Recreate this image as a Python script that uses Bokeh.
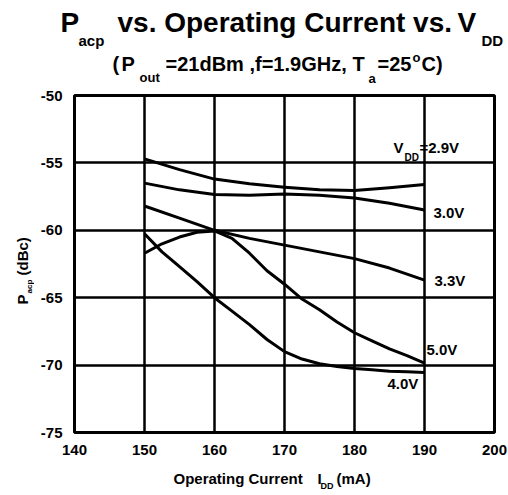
import math
from bokeh.plotting import figure
from bokeh.models import Label, FixedTicker, Range1d
from bokeh.layouts import column, row
from bokeh.embed import file_html
from bokeh.resources import INLINE

# ---- data ----
current_coarse = [150, 155, 160, 165, 170, 175, 180, 185, 190]
current_fine = [150, 152.5, 155, 157.5, 160, 162.5, 165, 167.5, 170,
                172.5, 175, 177.5, 180, 182.5, 185, 187.5, 190]
acp_29 = [-54.7, -55.5, -56.2, -56.55, -56.8, -57.0, -57.05, -56.85, -56.6]
acp_30 = [-56.5, -57.0, -57.35, -57.4, -57.3, -57.4, -57.6, -58.0, -58.5]
acp_33 = [-58.2, -59.1, -60.0, -60.6, -61.1, -61.6, -62.1, -62.8, -63.7]
acp_50 = [-61.7, -61.0, -60.5, -60.15, -60.05, -60.6, -61.7, -63.0, -64.0,
          -65.1, -65.9, -66.8, -67.6, -68.2, -68.8, -69.3, -69.85]
acp_40 = [-60.25, -61.6, -62.7, -63.8, -65.0, -66.0, -67.0, -68.1, -69.0,
          -69.55, -69.9, -70.1, -70.25, -70.35, -70.45, -70.5, -70.55]
x_ticks = [140, 150, 160, 170, 180, 190, 200]
y_ticks = [-75, -70, -65, -60, -55, -50]
x_grid = [150, 160, 170, 180, 190]
y_grid = [-70, -65, -60, -55]

FONT = "Liberation Sans"

LEFT_W = 34
FRAME_L, FRAME_R, FRAME_T, FRAME_B = 74, 494, 95, 432
TOP_H = 87
BOT_Y = 462

# ---------------- main chart ----------------
p = figure(frame_width=FRAME_R - FRAME_L, frame_height=FRAME_B - FRAME_T,
           min_border_left=FRAME_L - LEFT_W, min_border_right=508 - FRAME_R - LEFT_W + LEFT_W - 0,
           min_border_top=FRAME_T - TOP_H, min_border_bottom=BOT_Y - FRAME_B,
           x_range=Range1d(140, 200), y_range=Range1d(-75, -50),
           output_backend="svg", toolbar_location=None)
p.min_border_right = 508 - FRAME_R

p.outline_line_color = "black"
p.outline_line_width = 3
p.outline_line_alpha = 1

for ax in (p.xaxis[0], p.yaxis[0]):
    ax.axis_line_color = None
    ax.major_tick_line_color = None
    ax.minor_tick_line_color = None
    ax.major_tick_out = 0
    ax.major_tick_in = 0
    ax.minor_tick_out = 0
    ax.minor_tick_in = 0
    ax.major_label_text_font = FONT
    ax.major_label_text_font_style = "bold"
    ax.major_label_text_font_size = "15px"
    ax.major_label_text_color = "black"
p.xaxis.ticker = FixedTicker(ticks=x_ticks)
p.yaxis.ticker = FixedTicker(ticks=y_ticks)
p.yaxis.major_label_overrides = {t: str(t) for t in y_ticks}
p.xaxis.major_label_standoff = 12
p.yaxis.major_label_standoff = 12

p.xgrid.ticker = FixedTicker(ticks=x_grid)
p.ygrid.ticker = FixedTicker(ticks=y_grid)
for g in (p.xgrid[0], p.ygrid[0]):
    g.grid_line_color = "black"
    g.grid_line_width = 2.5
    g.grid_line_alpha = 1

for ys, xs in ((acp_29, current_coarse), (acp_30, current_coarse),
               (acp_33, current_coarse), (acp_50, current_fine),
               (acp_40, current_fine)):
    p.line(xs, ys, line_width=3, line_color="black", line_join="round")

# page pixel -> data coordinate helpers for the main frame
def X(px):
    return 140 + (px - FRAME_L) * 60 / (FRAME_R - FRAME_L)

def Y(py):
    return -50 - (py - FRAME_T) * 25 / (FRAME_B - FRAME_T)

def add_label(fig, text, x, y, size, angle=0.0):
    fig.add_layout(Label(x=x, y=y, text=text, text_font=FONT,
                         text_font_style="bold", text_font_size=f"{size}px",
                         text_color="black", text_align="left",
                         text_baseline="middle", angle=angle))

# curve labels
def lab(text, px, py, size):
    add_label(p, text, X(px), Y(py), size)

lab("V", 393, 147, 15)
lab("DD", 404, 157, 10)
lab("=2.9V", 419, 147, 15)
lab("3.0V", 433, 212, 15)
lab("3.3V", 434, 280, 15)
lab("5.0V", 426, 349, 15)
lab("4.0V", 387, 383, 15)

# ---------------- text panels (page-pixel coordinates) ----------------
def text_panel(w, y0, y1):
    f = figure(frame_width=w, frame_height=y1 - y0, min_border=0,
               x_range=Range1d(0, w), y_range=Range1d(y1, y0),
               x_axis_location=None, y_axis_location=None,
               output_backend="svg", toolbar_location=None)
    f.outline_line_color = None
    f.grid.visible = False
    return f

top = text_panel(508, 0, TOP_H)
add_label(top, "P", 60, 22, 28)
add_label(top, "acp", 78, 40, 15)
add_label(top, "vs. Operating Current vs.", 117, 22, 28)
add_label(top, "V", 457, 22, 28)
add_label(top, "DD", 481, 40, 15)
add_label(top, "(", 112, 63, 20)
add_label(top, "P", 121, 63, 20)
add_label(top, "out", 139, 77, 13)
add_label(top, "=21dBm ,f=1.9GHz,", 165, 63, 20)
add_label(top, "T", 352, 63, 20)
add_label(top, "a", 368, 78, 13)
add_label(top, "=25", 377, 63, 20)
add_label(top, "o", 412, 57, 13)
add_label(top, "C)", 421, 63, 20)

left = text_panel(LEFT_W, TOP_H, BOT_Y)
add_label(left, "P", 22, 296, 15, angle=math.pi / 2)
add_label(left, "acp", 29, 285, 8, angle=math.pi / 2)
add_label(left, "(dBc)", 22, 267, 15, angle=math.pi / 2)

bottom = text_panel(508, BOT_Y, 492)
add_label(bottom, "Operating Current", 173, 478, 15)
add_label(bottom, "I", 317, 478, 15)
add_label(bottom, "DD", 320, 485, 9)
add_label(bottom, "(mA)", 336, 478, 15)

layout = column(top, row(left, p), bottom)
open("out.html", "w").write(file_html(layout, INLINE))
